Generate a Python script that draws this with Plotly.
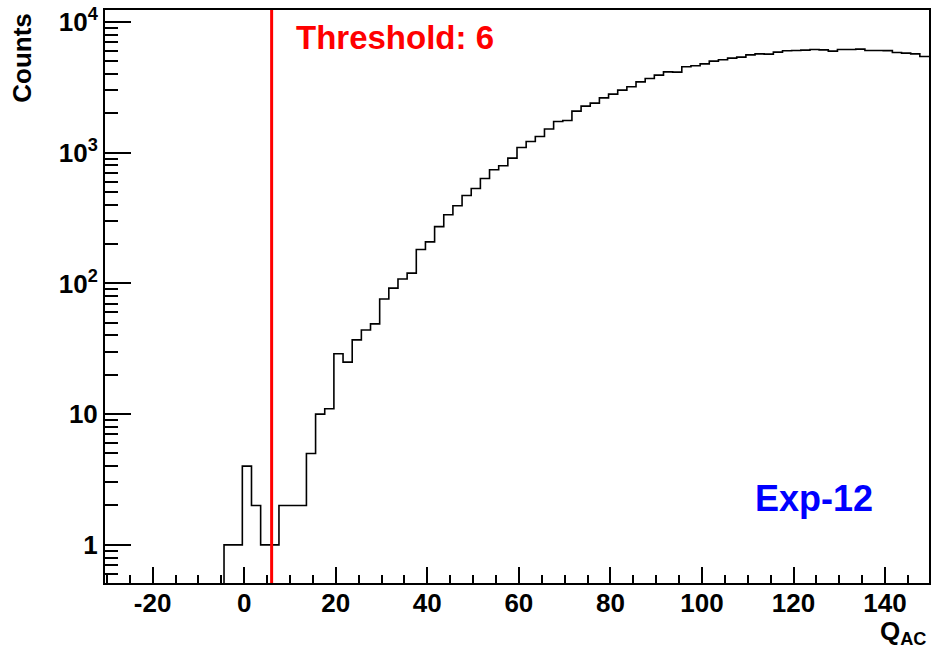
import numpy as np
import plotly.graph_objects as go

# Histogram binning: 90 bins of width 2 starting at -30.4
BIN_LOW = -30.4
BIN_WIDTH = 2.0

# Bin contents (counts per bin, in bin order)
counts = [
    0, 0, 0, 0, 0, 0, 0, 0, 0, 0, 0, 0, 0,
    1, 1, 4, 2, 1, 1, 2, 2, 2, 5, 10, 11,
    29, 25, 37, 44, 49, 76, 92, 108, 120, 182,
    208, 272, 335, 393, 471, 533, 635, 740, 796, 909,
    1097, 1219, 1331, 1517, 1734, 1763, 2080, 2273, 2395, 2630,
    2807, 3013, 3194, 3487, 3697, 3924, 4158, 4139, 4543, 4623,
    4786, 5022, 5140, 5296, 5386, 5610, 5710, 5680, 5885, 6023,
    6055, 6100, 6165, 6127, 5985, 6165, 6165, 6207, 6055, 6055,
    6040, 5846, 5783, 5710, 5447,
]

THRESHOLD = 6
EXPERIMENT = "Exp-12"

# Axis settings
X_RANGE = [-30.4, 149.6]
x_major = [-20, 0, 20, 40, 60, 80, 100, 120, 140]
x_major_text = [str(v) for v in x_major]
Y_LOG_RANGE = [-0.292, 4.092]
y_major = [1, 10, 100, 1000, 10000]
y_major_text = ["1", "10", "10<sup>2</sup>", "10<sup>3</sup>", "10<sup>4</sup>"]

FONT = "Liberation Sans, Arial, Helvetica, sans-serif"

# Step outline: empty bins are pushed below the visible log range so the
# outline drops to the frame bottom, as a ROOT histogram does.
edges = BIN_LOW + BIN_WIDTH * np.arange(len(counts) + 1)
floor = 1e-3
step_y = [c if c > 0 else floor for c in counts]
step_y = step_y + [step_y[-1]]

y_minor = [m * 10.0 ** d for d in range(-1, 5) for m in range(2, 10)]

fig = go.Figure()
fig.add_trace(go.Scatter(
    x=edges, y=step_y, mode="lines",
    line=dict(color="black", width=1.6, shape="hv"),
    showlegend=False, hoverinfo="skip",
))

fig.add_vline(x=THRESHOLD, line=dict(color="#ff0000", width=3))

fig.update_layout(
    width=933, height=652,
    margin=dict(l=105, r=2, t=10, b=69),
    paper_bgcolor="white", plot_bgcolor="white",
    font=dict(family=FONT, color="black"),
    showlegend=False,
)

fig.update_xaxes(
    range=X_RANGE, showgrid=False, zeroline=False,
    showline=True, linecolor="black", linewidth=2, mirror=True,
    ticks="inside", ticklen=16, tickwidth=1.5, tickcolor="black",
    tickmode="array", tickvals=x_major, ticktext=x_major_text,
    ticklabelstandoff=-4,
    tickfont=dict(family=FONT, size=26, color="black", weight="bold"),
    minor=dict(ticks="inside", ticklen=8, tickwidth=1.5, tickcolor="black",
               tickmode="linear", tick0=0, dtick=5, showgrid=False),
)

fig.update_yaxes(
    type="log", range=Y_LOG_RANGE, showgrid=False, zeroline=False,
    showline=True, linecolor="black", linewidth=2, mirror=True,
    ticks="inside", ticklen=26, tickwidth=1.5, tickcolor="black",
    tickmode="array", tickvals=y_major, ticktext=y_major_text,
    tickfont=dict(family=FONT, size=26, color="black", weight="bold"),
    minor=dict(ticks="inside", ticklen=13, tickwidth=1.5, tickcolor="black",
               tickmode="array", tickvals=y_minor, showgrid=False),
)

# Axis titles, ROOT style: placed at the far end of each axis
fig.add_annotation(
    text="Counts", xref="paper", yref="paper",
    x=-0.1, y=0.998, xanchor="center", yanchor="top",
    textangle=-90, showarrow=False,
    font=dict(family=FONT, size=26, color="black", weight="bold"),
)
fig.add_annotation(
    text="Q<sub>AC</sub>", xref="paper", yref="paper",
    x=1.0, y=-0.118, xanchor="right", yanchor="bottom",
    showarrow=False,
    font=dict(family=FONT, size=26, color="black", weight="bold"),
)

# Threshold label and experiment tag
fig.add_annotation(
    text=f"Threshold: {THRESHOLD}", xref="paper", yref="paper",
    x=0.229, y=0.952, xanchor="left", yanchor="middle",
    showarrow=False,
    font=dict(family=FONT, size=33, color="#ff0000", weight="bold"),
)
fig.add_annotation(
    text=EXPERIMENT, xref="paper", yref="paper",
    x=0.86, y=0.148, xanchor="center", yanchor="middle",
    showarrow=False,
    font=dict(family=FONT, size=36, color="#0000ff", weight="bold"),
)

fig.write_html("out.html")
